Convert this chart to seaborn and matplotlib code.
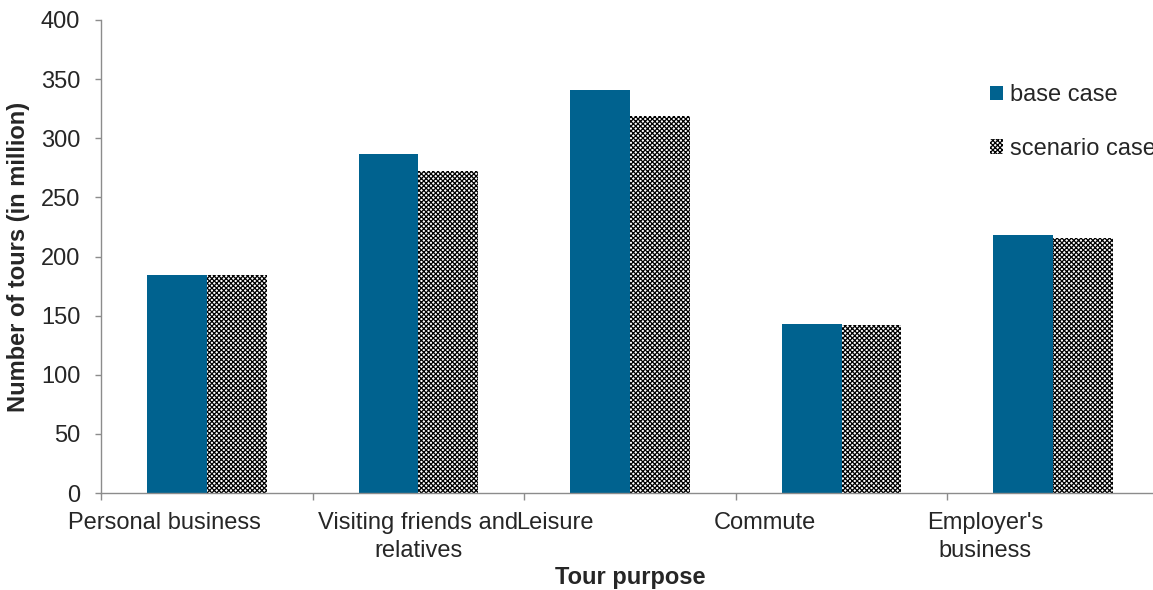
import pandas as pd
import matplotlib
matplotlib.use("Agg")
import matplotlib.pyplot as plt
import seaborn as sns
from matplotlib.ticker import FixedLocator


# ---------------- DATA ----------------
purposes = ["Personal business", "Visiting friends and\nrelatives", "Leisure",
            "Commute", "Employer's\nbusiness"]
base_case = [184, 287, 341, 143, 218]
scenario_case = [184, 272, 319, 142, 216]
series_names = ["base case", "scenario case"]

df = pd.DataFrame({
    "purpose": purposes * 2,
    "tours": base_case + scenario_case,
    "case": [series_names[0]] * len(purposes) + [series_names[1]] * len(purposes),
})


# ---------------- STYLE ----------------
sns.set_style("white")
plt.rcParams["font.family"] = ["Liberation Sans", "DejaVu Sans"]
plt.rcParams["hatch.linewidth"] = 0.9

blue = "#00628F"
grey = "#8C8C8C"
fs = 17


# ---------------- PLOT ----------------
fig = plt.figure(figsize=(11.53, 5.90), dpi=100)
ax = fig.add_axes([101 / 1153, 97 / 590, 1058 / 1153, 473 / 590])

sns.barplot(data=df, x="purpose", y="tours", hue="case", order=purposes,
            hue_order=series_names, palette=[blue, "white"],
            width=120 / 212, gap=0, saturation=1, legend=False, ax=ax)

for bar in ax.containers[0]:
    bar.set_linewidth(0)
for bar in ax.containers[1]:
    bar.set_facecolor("white")
    bar.set_edgecolor("black")
    bar.set_linewidth(0)
    bar.set_hatch("xxxxxxx")

ax.set_xlim(-0.5, len(purposes) - 0.5)
ax.set_ylim(0, 400)
ax.set_yticks(range(0, 401, 50))

# labels sit a bit off the centres, like in the original export
label_shift = [-0.2, 0.0, -0.354, -0.364, -0.322]
ax.set_xticks([i + s for i, s in enumerate(label_shift)], purposes, linespacing=1.3)

# category boundaries get the tick marks
ax.xaxis.set_minor_locator(FixedLocator([i - 0.5 for i in range(len(purposes) + 1)]))
ax.tick_params(axis="x", which="major", length=0, pad=14, labelsize=fs)
ax.tick_params(axis="x", which="minor", length=5, width=1, color=grey, direction="out")
ax.tick_params(axis="y", length=4, width=1, color=grey, direction="out", pad=11, labelsize=fs)
ax.xaxis.set_ticks_position("bottom")
ax.yaxis.set_ticks_position("left")

for side in ["top", "right"]:
    ax.spines[side].set_visible(False)
for side in ["left", "bottom"]:
    ax.spines[side].set_color(grey)
    ax.spines[side].set_linewidth(1)

ax.set_xlabel("Tour purpose", fontsize=fs, fontweight="bold", labelpad=3)
ax.set_ylabel("Number of tours (in million)", fontsize=fs, fontweight="bold", labelpad=8)

handles = [ax.containers[0][0], ax.containers[1][0]]
fig.legend(handles, series_names, loc="upper left", bbox_to_anchor=(990 / 1153, 1 - 84 / 590),
           frameon=False, fontsize=fs, handlelength=0.55, handleheight=0.55,
           handletextpad=0.3, labelspacing=1.35, borderaxespad=0, borderpad=0)

fig.savefig("out.png", dpi=100)
plt.close()
